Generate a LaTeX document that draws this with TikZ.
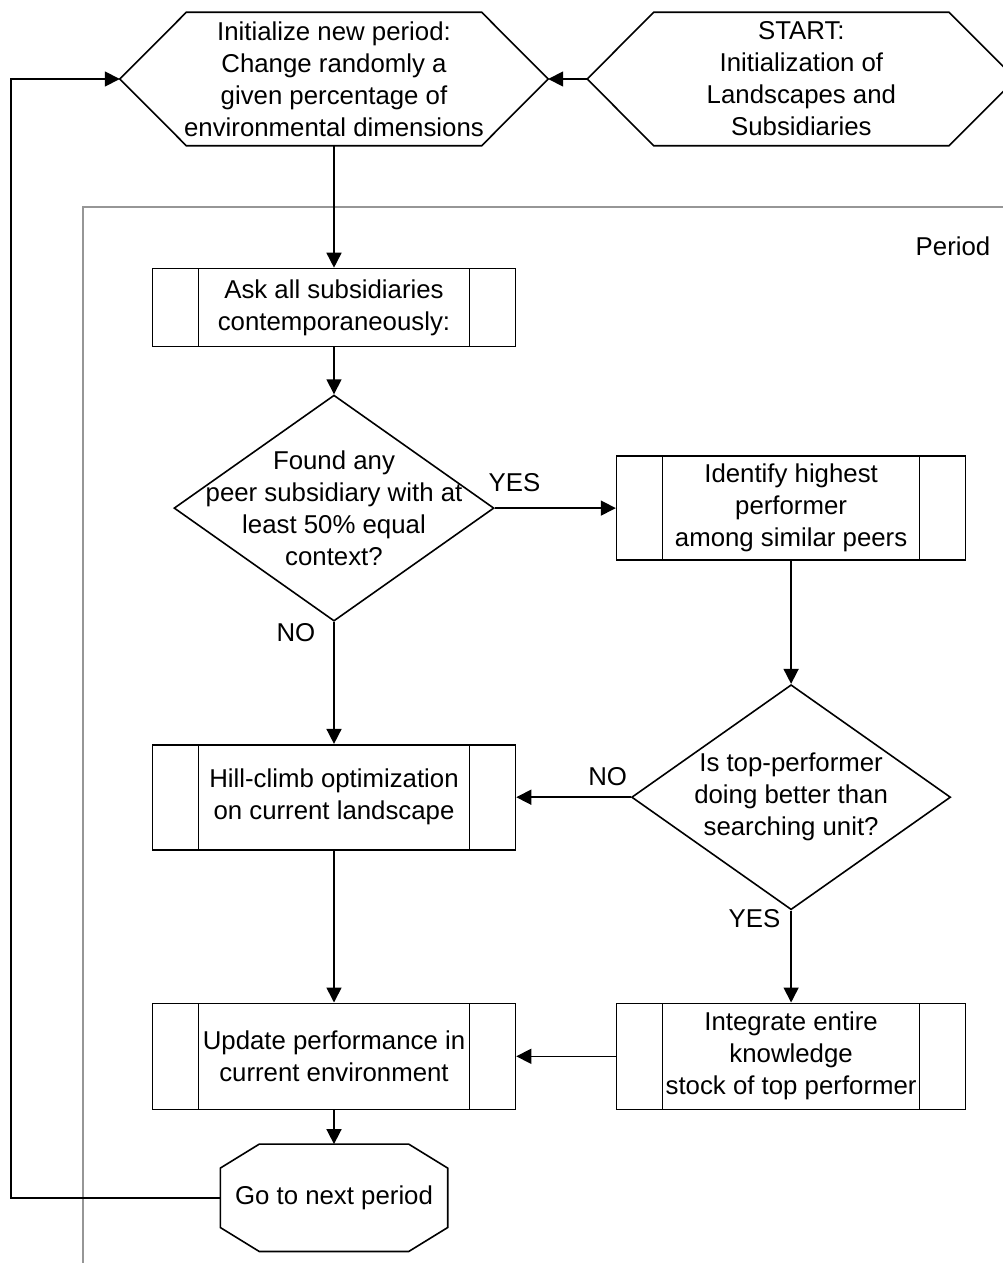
\documentclass[tikz,border=0pt]{standalone}
\usepackage{fontspec}
\setmainfont{Liberation Sans}
\usetikzlibrary{arrows.meta,positioning,shapes.geometric}
\definecolor{framegray}{RGB}{150,150,150}
\tikzset{
txt/.style={align=center,font=\fontsize{25.8}{32}\selectfont,inner sep=0pt},
answer/.style={font=\fontsize{25.8}{32}\selectfont,inner sep=0pt},
subproc/.style={draw,line width=1.6pt,minimum width=363pt,minimum height=78pt,txt,
  path picture={\draw[line width=1.6pt]([xshift=46pt]path picture bounding box.north west)--([xshift=46pt]path picture bounding box.south west)
    ([xshift=-46pt]path picture bounding box.north east)--([xshift=-46pt]path picture bounding box.south east);}},
hexa/.style={minimum width=428pt,minimum height=133pt,txt,
  append after command={\pgfextra{\draw[line width=1.6pt](\tikzlastnode.west)--([xshift=66.5pt]\tikzlastnode.north west)--([xshift=-66.5pt]\tikzlastnode.north east)
    --(\tikzlastnode.east)--([xshift=-66.5pt]\tikzlastnode.south east)--([xshift=66.5pt]\tikzlastnode.south west)--cycle;}}},
octa/.style={minimum width=227pt,minimum height=107pt,txt,
  append after command={\pgfextra{\draw[line width=1.6pt]([yshift=-24pt]\tikzlastnode.north west)--([xshift=39pt]\tikzlastnode.north west)--([xshift=-39pt]\tikzlastnode.north east)
    --([yshift=-24pt]\tikzlastnode.north east)--([yshift=24pt]\tikzlastnode.south east)--([xshift=-39pt]\tikzlastnode.south east)
    --([xshift=39pt]\tikzlastnode.south west)--([yshift=24pt]\tikzlastnode.south west)--cycle;}}},
decision/.style={draw,diamond,line width=1.6pt,minimum width=320pt,minimum height=226pt,inner sep=0pt},
flow/.style={-{Triangle[length=15pt,width=15pt]},line width=1.6pt},
frame/.style={draw=framegray,line width=1.4pt}
}
\begin{document}
\begin{tikzpicture}[x=1pt,y=1pt]
\useasboundingbox (0,0) rectangle (1003,-1263);
\draw[frame](83,-1263)|-(1003,-207);
\node[answer](period) at (953,-246){Period};
\node[hexa](init) at (334,-79){Initialize new period:\\Change randomly a\\given percentage of\\environmental dimensions};
\node[hexa,right=39pt of init](start){START:\\Initialization of\\Landscapes and\\Subsidiaries};
\node[subproc,below=122pt of init](ask){Ask all subsidiaries\\contemporaneously:};
\node[decision,below=47pt of ask,label={[txt]center:{Found any\\peer subsidiary with at\\least 50\% equal\\context?}}](found){};
\node[subproc,minimum width=349pt,minimum height=104pt,right=121pt of found](ident){Identify highest\\performer\\among similar peers};
\node[decision,minimum width=319pt,minimum height=225pt,below=123pt of ident,label={[txt]center:{Is top-performer\\doing better than\\searching unit?}}](better){};
\node[subproc,minimum height=105pt,below=122pt of found](climb){Hill-climb optimization\\on current landscape};
\node[subproc,minimum height=106pt,below=152pt of climb](update){Update performance in\\current environment};
\node[subproc,minimum width=349pt,minimum height=106pt,below=92pt of better](integ){Integrate entire\\knowledge\\stock of top performer};
\node[octa,below=34pt of update](next){Go to next period};
\coordinate(back) at (11,0);
\draw[flow](start.west)--(init.east);
\draw[flow](init.south)--(ask.north);\draw[flow](ask)--(found);
\draw[flow](found.east)--node[answer,pos=0,anchor=south west,shift={(-7pt,16pt)}]{YES}(ident.west);
\draw[flow](found.south)--node[answer,pos=0,anchor=north east,shift={(-18pt,-1pt)}]{NO}(climb.north);
\draw[flow](ident)--(better);
\draw[flow](better.west)--node[answer,pos=0,anchor=south east,shift={(-3pt,11pt)}]{NO}(climb.east);
\draw[flow](better.south)--node[answer,pos=0,anchor=north east,shift={(-10pt,2pt)}]{YES}(integ.north);
\draw[flow](climb)--(update);\draw[flow](integ.west)--(update.east);\draw[flow](update)--(next);
\draw[flow](next.west)--(next.west-|back)|-(init.west);
\end{tikzpicture}
\end{document}
